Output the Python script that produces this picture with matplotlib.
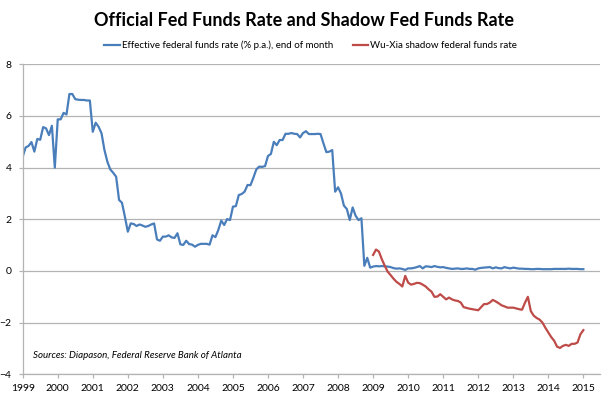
import numpy as np
import matplotlib
matplotlib.use("Agg")
import matplotlib.pyplot as plt
from matplotlib.lines import Line2D

# monthly, Jan 1999 .. Jan 2015
effr_1999 = [4.42, 4.78, 4.84, 4.99, 4.62, 5.11, 5.08, 5.57, 5.52, 5.26, 5.62, 4.00]
effr_2000 = [5.87, 5.87, 6.12, 6.06, 6.85, 6.85, 6.65, 6.63, 6.62, 6.62, 6.60, 6.60]
effr_2001 = [5.39, 5.74, 5.58, 5.33, 4.68, 4.23, 3.93, 3.80, 3.65, 2.75, 2.64, 2.10]
effr_2002 = [1.52, 1.84, 1.82, 1.74, 1.80, 1.76, 1.71, 1.74, 1.80, 1.84, 1.22, 1.17]
effr_2003 = [1.33, 1.33, 1.38, 1.30, 1.28, 1.46, 1.03, 1.01, 1.17, 1.04, 1.02, 0.94]
effr_2004 = [1.01, 1.05, 1.05, 1.05, 1.02, 1.38, 1.31, 1.59, 1.95, 1.78, 2.01, 1.97]
effr_2005 = [2.49, 2.51, 2.94, 2.98, 3.07, 3.33, 3.32, 3.61, 3.93, 4.04, 4.03, 4.06]
effr_2006 = [4.45, 4.53, 5.00, 4.87, 5.07, 5.07, 5.31, 5.31, 5.34, 5.31, 5.30, 5.17]
effr_2007 = [5.34, 5.41, 5.30, 5.30, 5.30, 5.31, 5.30, 4.94, 4.60, 4.62, 4.68, 3.07]
effr_2008 = [3.24, 3.00, 2.53, 2.40, 1.97, 2.46, 2.14, 1.97, 2.04, 0.20, 0.51, 0.13]
effr_2009 = [0.17, 0.19, 0.18, 0.19, 0.18, 0.17, 0.15, 0.11, 0.09, 0.10, 0.08, 0.04]
effr_2010 = [0.10, 0.10, 0.12, 0.15, 0.19, 0.10, 0.18, 0.17, 0.15, 0.19, 0.16, 0.14]
effr_2011 = [0.15, 0.12, 0.10, 0.08, 0.09, 0.10, 0.08, 0.08, 0.10, 0.08, 0.08, 0.05]
effr_2012 = [0.10, 0.12, 0.13, 0.14, 0.15, 0.10, 0.14, 0.11, 0.10, 0.15, 0.12, 0.10]
effr_2013 = [0.13, 0.11, 0.09, 0.09, 0.08, 0.08, 0.07, 0.07, 0.08, 0.08, 0.07, 0.07]
effr_2014 = [0.07, 0.07, 0.08, 0.08, 0.08, 0.08, 0.08, 0.09, 0.08, 0.08, 0.08, 0.07]
effr_2015 = [0.07]

# Wu-Xia shadow rate, Jan 2009 .. Jan 2015
shadow = [0.62, 0.83, 0.75, 0.45, 0.20, -0.03, -0.16, -0.30, -0.42, -0.50, -0.60, -0.19,
          -0.45, -0.53, -0.50, -0.46, -0.47, -0.53, -0.60, -0.71, -0.80, -1.00, -0.99, -0.90,
          -1.00, -1.10, -1.03, -1.10, -1.14, -1.16, -1.22, -1.40, -1.43, -1.46, -1.48, -1.50,
          -1.52, -1.40, -1.28, -1.28, -1.22, -1.12, -1.18, -1.25, -1.33, -1.37, -1.42, -1.42,
          -1.42, -1.45, -1.48, -1.50, -1.23, -1.00, -1.55, -1.73, -1.82, -1.88, -2.00, -2.20,
          -2.38, -2.56, -2.70, -2.93, -2.98, -2.90, -2.86, -2.90, -2.82, -2.82, -2.77, -2.45,
          -2.29]

years = list(range(1999, 2016))
labels = ["Effective federal funds rate (% p.a.), end of month", "Wu-Xia shadow federal funds rate"]

effr = (effr_1999 + effr_2000 + effr_2001 + effr_2002 + effr_2003 + effr_2004 +
        effr_2005 + effr_2006 + effr_2007 + effr_2008 + effr_2009 + effr_2010 +
        effr_2011 + effr_2012 + effr_2013 + effr_2014 + effr_2015)
x_effr = 1999 + np.arange(len(effr)) / 12
x_shadow = 2009 + np.arange(len(shadow)) / 12

blue = "#4A7EBB"
red = "#BE4B48"
grey = "#B3B3B3"
W, H = 610, 399

fig = plt.figure(figsize=(6.10, 3.99), dpi=100)
ax = fig.add_axes([0.0372, 0.0619, 0.9464, 0.7769])

ax.plot(x_effr, effr, color=blue, lw=1.6)
ax.plot(x_shadow, shadow, color=red, lw=1.6)

ax.set_xlim(1999, 2015.475)
ax.set_ylim(-4, 8)
ax.set_yticks(range(-4, 9, 2))
ax.set_xticks(years)
ax.set_xticklabels([str(y) for y in years])
ax.grid(axis="y", color=grey, lw=0.9)
ax.set_axisbelow(True)
for s in ["top", "right"]:
    ax.spines[s].set_visible(False)
for s in ["left", "bottom"]:
    ax.spines[s].set_color(grey)
    ax.spines[s].set_linewidth(0.9)
ax.tick_params(axis="x", colors=grey, length=3, width=0.9, labelcolor="black", labelsize=7.5, pad=4)
ax.tick_params(axis="y", colors=grey, length=3, width=0.9, labelcolor="black", labelsize=7.5, pad=5)
for lbl in ax.get_xticklabels() + ax.get_yticklabels():
    lbl.set_family("Lato")

fig.text(304.5 / W, 1 - 20 / H, "Official Fed Funds Rate and Shadow Fed Funds Rate",
         ha="center", va="center", fontsize=13, fontweight="bold", family="Lato")

# legend drawn by hand to match positions
ly = 1 - 45 / H
for (x0, x1), col, txt in zip([(104, 120), (352.7, 368.3)], [blue, red], labels):
    fig.add_artist(Line2D([x0 / W, x1 / W], [ly, ly], color=col, lw=1.6, transform=fig.transFigure))
    fig.text((x1 + 1.5) / W, ly, txt, ha="left", va="center", fontsize=7, family="Lato")

ax.text(0.018, 0.06, "Sources: Diapason, Federal Reserve Bank of Atlanta", transform=ax.transAxes,
        fontsize=7, style="italic", family="Lato", va="center")

fig.savefig("out.png", dpi=100)
